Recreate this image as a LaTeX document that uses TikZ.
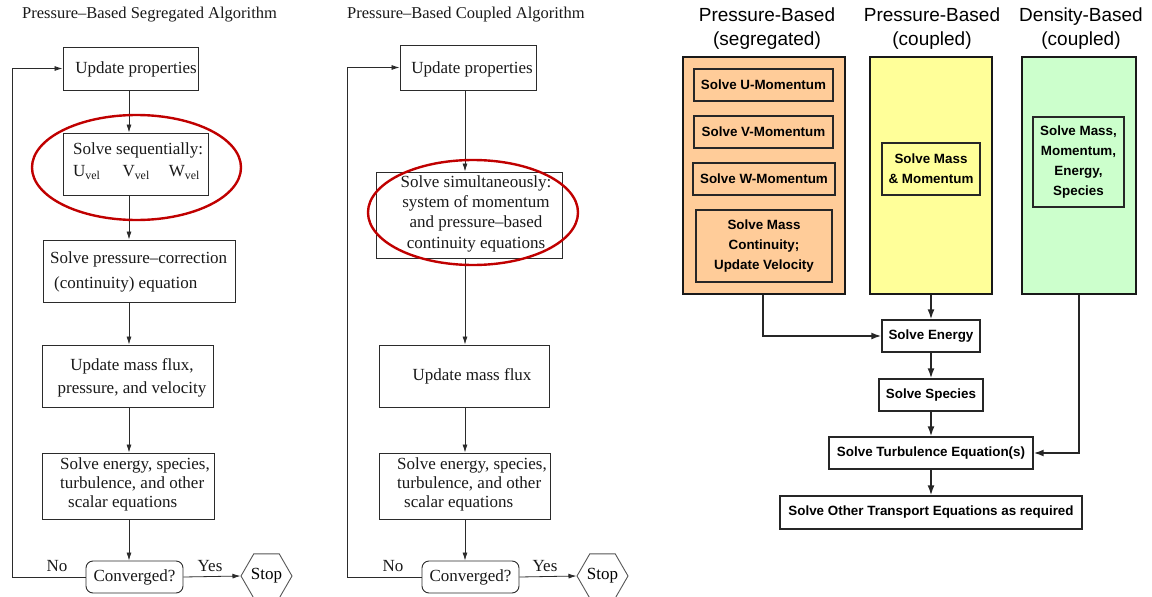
\documentclass[tikz,border=0pt]{standalone}
\usepackage{fontspec}
\setmainfont{Liberation Serif}
\newfontfamily\arialfont{Liberation Sans}
\usetikzlibrary{shapes.geometric,arrows.meta,fit}

\definecolor{ink}{HTML}{2B2B2B}
\definecolor{ringred}{HTML}{C00000}
\definecolor{peach}{HTML}{FFCC99}
\definecolor{paleyellow}{HTML}{FFFF99}
\definecolor{palegreen}{HTML}{CCFFCC}

\tikzset{
  algbox/.style={draw=ink, line width=0.9pt, inner sep=0pt},
  algtext/.style={inner sep=0pt, font=\fontsize{17}{22}\selectfont, text=black!90},
  titletext/.style={inner sep=0pt, anchor=west, font=\fontsize{16.5}{20}\selectfont, text=black!90},
  convbox/.style={draw=ink, line width=0.9pt, rounded corners=7pt, inner sep=0pt},
  stophex/.style={draw=ink!80, line width=0.9pt, regular polygon, regular polygon sides=6,
    minimum size=51pt, inner sep=0pt, font=\fontsize{17}{20}\selectfont},
  flowarrow/.style={draw=ink, line width=0.8pt, -{Latex[length=8pt,width=5pt]}},
  ringmark/.style={draw=ringred, line width=2.4pt},
  panel/.style={draw=black!90, line width=2.6pt, inner sep=0pt},
  stepbox/.style={draw=black!85, line width=1.4pt, inner sep=0pt, align=center,
    font=\arialfont\bfseries\fontsize{13.4}{20}\selectfont},
  headtext/.style={inner sep=0pt, align=center, font=\arialfont\fontsize{19}{24}\selectfont},
  boldarrow/.style={draw=black!85, line width=1.6pt, -{Latex[length=10pt,width=7pt]}}
}

\begin{document}
\begin{tikzpicture}[x=1pt,y=-1pt]
\useasboundingbox (0,0) rectangle (1152,597);

% ---------------- segregated algorithm ----------------
\node[titletext] (title1) at (22,15) {Pressure–Based Segregated Algorithm};

\node[algbox, fit={(63,47) (198,90)}] (up1) {};
\node[algtext] (up1t) at (136,69) {Update properties};

\node[algbox, fit={(63,133) (208,195)}] (seq1) {};
\node[algtext, align=left, anchor=west] (seq1t) at (73,161)
  {Solve sequentially:\\U\textsubscript{vel}\hspace{22pt}V\textsubscript{vel}\hspace{19pt}W\textsubscript{vel}};

\node[algbox, fit={(43,240) (235,302)}] (pc1) {};
\node[algtext, align=left, anchor=west, font=\fontsize{17}{25}\selectfont] (pc1t) at (50,272)
  {Solve pressure–correction\\\hspace{4pt}(continuity) equation};

\node[algbox, fit={(42,345) (213,407)}] (mf1) {};
\node[algtext, align=center, font=\fontsize{17}{23}\selectfont] (mf1t) at (132,378)
  {Update mass flux,\\pressure, and velocity};

\node[algbox, fit={(42,453) (214,519)}] (se1) {};
\node[algtext, align=left, anchor=west, font=\fontsize{17}{19}\selectfont] (se1t) at (60,484)
  {Solve energy, species,\\turbulence, and other\\\hspace{8pt}scalar equations};

\node[convbox, fit={(86,561) (183,593)}] (conv1) {};
\node[algtext] (conv1t) at (134.5,577) {Converged?};

\node[stophex] (stop1) at (266.5,576) {Stop};

\node[algtext] (no1) at (57,566) {No};
\node[algtext] (yes1) at (210,566) {Yes};

\coordinate (colA) at (129,0);
\coordinate (loopA) at (12,577);

\draw[flowarrow] (up1.south -| colA) -- (seq1.north -| colA);
\draw[flowarrow] (seq1.south -| colA) -- (pc1.north -| colA);
\draw[flowarrow] (pc1.south -| colA) -- (mf1.north -| colA);
\draw[flowarrow] (mf1.south -| colA) -- (se1.north -| colA);
\draw[flowarrow] (se1.south -| colA) -- (conv1.north -| colA);
\draw[flowarrow] (conv1.west) -- (loopA) |- (up1.west);
\draw[flowarrow] (conv1.east) -- (stop1.west);

\draw[ringmark] (136.5,167.5) ellipse [x radius=104.5, y radius=52.5];

% ---------------- coupled algorithm ----------------
\node[titletext] (title2) at (347,15) {Pressure–Based Coupled Algorithm};

\node[algbox, fit={(400,45) (536,90)}] (up2) {};
\node[algtext] (up2t) at (472,69) {Update properties};

\node[algbox, fit={(376,172) (562,258)}] (sim2) {};
\node[algtext, align=center, font=\fontsize{17}{20.3}\selectfont] (sim2t) at (476,213.5)
  {Solve simultaneously:\\system of momentum\\and pressure–based\\continuity equations};

\node[algbox, fit={(379,345) (549,407)}] (mf2) {};
\node[algtext] (mf2t) at (472,376) {Update mass flux};

\node[algbox, fit={(379,453) (550,519)}] (se2) {};
\node[algtext, align=left, anchor=west, font=\fontsize{17}{19}\selectfont] (se2t) at (397,484)
  {Solve energy, species,\\turbulence, and other\\\hspace{7pt}scalar equations};

\node[convbox, fit={(422,561) (519,593)}] (conv2) {};
\node[algtext] (conv2t) at (470.5,577) {Converged?};

\node[stophex] (stop2) at (602.5,576) {Stop};

\node[algtext] (no2) at (393,566) {No};
\node[algtext] (yes2) at (545,566) {Yes};

\coordinate (colB) at (465,0);
\coordinate (loopB) at (347,577);

\draw[flowarrow] (up2.south -| colB) -- (sim2.north -| colB);
\draw[flowarrow] (sim2.south -| colB) -- (mf2.north -| colB);
\draw[flowarrow] (mf2.south -| colB) -- (se2.north -| colB);
\draw[flowarrow] (se2.south -| colB) -- (conv2.north -| colB);
\draw[flowarrow] (conv2.west) -- (loopB) |- (up2.west);
\draw[flowarrow] (conv2.east) -- (stop2.west);

\draw[ringmark] (473,212.5) ellipse [x radius=105, y radius=52.5];

% ---------------- solver comparison ----------------
\node[headtext] (h1) at (767,29) {Pressure-Based\\(segregated)};
\node[headtext] (h2) at (932,29) {Pressure-Based\\(coupled)};
\node[headtext] (h3) at (1081,29) {Density-Based\\(coupled)};

\node[panel, fill=peach, fit={(683,57) (845,294)}] (segp) {};
\node[panel, fill=paleyellow, fit={(870,57) (992,294)}] (coup) {};
\node[panel, fill=palegreen, fit={(1022,57) (1136,294)}] (dens) {};

\node[stepbox, minimum width=139pt, minimum height=32pt] (um) at (763.5,85) {Solve U-Momentum};
\node[stepbox, minimum width=139pt, minimum height=32pt] (vm) at (763.5,132) {Solve V-Momentum};
\node[stepbox, minimum width=142pt, minimum height=32pt] (wm) at (764,179) {Solve W-Momentum};
\node[stepbox, minimum width=136pt, minimum height=72pt] (mc) at (764,246) {Solve Mass\\Continuity;\\Update Velocity};
\node[stepbox, minimum width=98pt, minimum height=52pt] (mm) at (931,169) {Solve Mass\\\& Momentum};
\node[stepbox, minimum width=91pt, minimum height=90pt] (mmes) at (1078.5,162) {Solve Mass,\\Momentum,\\Energy,\\Species};

\node[stepbox, minimum width=98pt, minimum height=32pt] (en) at (931,336) {Solve Energy};
\node[stepbox, minimum width=104pt, minimum height=32pt] (sp) at (931,395) {Solve Species};
\node[stepbox, minimum width=204pt, minimum height=32pt] (tu) at (931,453) {Solve Turbulence Equation(s)};
\node[stepbox, minimum width=302pt, minimum height=33pt] (ot) at (931,512.5) {Solve Other Transport Equations as required};

\coordinate (segx) at (763,0);
\coordinate (densx) at (1079,0);

\draw[boldarrow] (segp.south -| segx) |- (en.west);
\draw[boldarrow] (coup.south -| en.north) -- (en.north);
\draw[boldarrow] (en.south) -- (sp.north);
\draw[boldarrow] (sp.south) -- (tu.north);
\draw[boldarrow] (tu.south) -- (ot.north);
\draw[boldarrow] (dens.south -| densx) |- (tu.east);
\end{tikzpicture}
\end{document}
